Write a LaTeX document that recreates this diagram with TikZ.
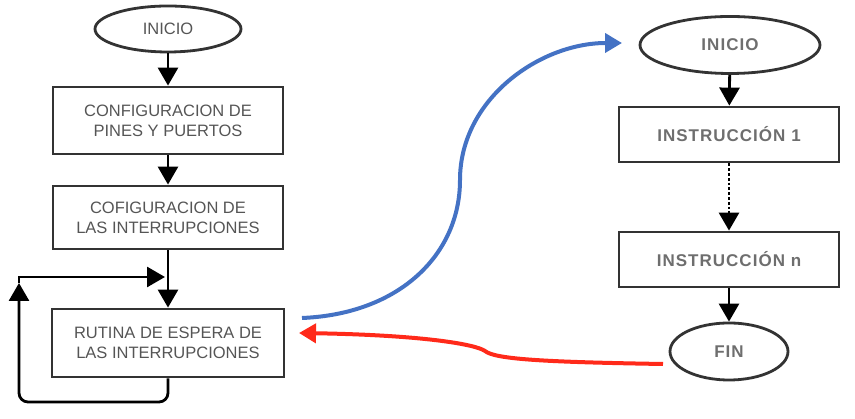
\documentclass[tikz,border=0pt]{standalone}
\usepackage{fontspec}
\setmainfont{Liberation Sans}
\newfontfamily\widesans[LetterSpace=6]{Liberation Sans}
\usetikzlibrary{positioning,shapes.geometric,arrows.meta}
\definecolor{boxgray}{HTML}{333333}
\definecolor{txtgray}{HTML}{555555}
\definecolor{curveblue}{HTML}{4472C4}
\definecolor{curvered}{HTML}{FF2A1A}
\tikzset{>={Triangle[width=20pt,length=18pt]}}
\tikzset{
  procbox/.style={draw=boxgray,line width=2.8pt,rectangle,align=center,text=txtgray,font=\fontsize{16.5}{20}\selectfont},
  termbox/.style={draw=boxgray,line width=2.8pt,ellipse,align=center,text=txtgray,font=\fontsize{16.5}{20}\selectfont},
  widetext/.style={text=txtgray!85,font=\widesans\bfseries\fontsize{17}{20}\selectfont},
  flowline/.style={line width=2.8pt,->},
}

\begin{document}
\begin{tikzpicture}[x=1pt,y=1pt]
\useasboundingbox (0,0) rectangle (855,419);
\begin{scope}
\node[termbox,minimum width=146,minimum height=46] (ini) at (168,390) {INICIO};
\node[procbox,minimum width=230,minimum height=67] (conf) at (168,298.5) {CONFIGURACION DE\\PINES Y PUERTOS};
\node[procbox,minimum width=230,minimum height=63] (cint) at (168,201.5) {COFIGURACION DE\\LAS INTERRUPCIONES};
\node[procbox,minimum width=232,minimum height=68] (rut) at (168,76) {RUTINA DE ESPERA DE\\LAS INTERRUPCIONES};
\draw[flowline] (ini) -- (conf);
\draw[flowline] (conf) -- (cint);
\draw[flowline] (cint) -- (rut);
\coordinate (lpup) at (19,136);
\coordinate (lpin) at (165,142);
\draw[flowline,rounded corners=9pt] (rut.south) -- (168,17) -- (19,17) -- (lpup);
\draw[flowline] (lpup) -- (19,142) -- (lpin);
\end{scope}
\begin{scope}
\node[termbox,widetext,minimum width=180,minimum height=57] (ini2) at (730,374) {INICIO};
\node[procbox,widetext,minimum width=220,minimum height=55] (ins1) at (729,284.5) {INSTRUCCIÓN 1};
\node[procbox,widetext,minimum width=220,minimum height=55] (insn) at (729,159.5) {INSTRUCCIÓN n};
\node[termbox,widetext,minimum width=118,minimum height=57] (fin) at (729,67.5) {FIN};
\draw[flowline] (ini2) -- (ins1);
\draw[flowline,dotted] (ins1) -- (insn);
\draw[flowline] (insn) -- (fin);
\end{scope}
\coordinate (bstart) at (302,101);
\coordinate (bend) at (622,376);
\coordinate (rstart) at (663,55);
\coordinate (rend) at (299,86);
\draw[curveblue,line width=4pt,-{Triangle[width=19pt,length=17pt]}] (bstart) .. controls (400,105) and (460,165) .. (460,239) .. controls (460,320) and (540,376) .. (bend);
\draw[curvered,line width=4pt,-{Triangle[width=19pt,length=17pt]}] (rstart) .. controls (540,57) and (495,60) .. (485,68) .. controls (475,75) and (420,84) .. (rend);
\end{tikzpicture}
\end{document}
